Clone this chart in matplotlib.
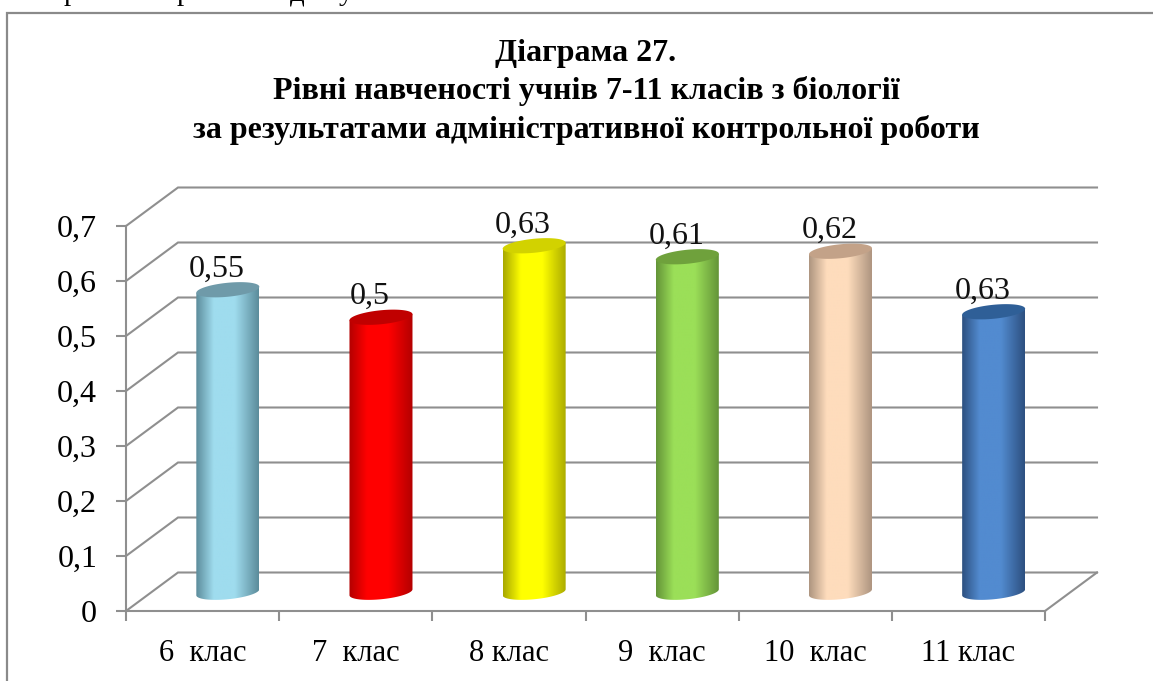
import numpy as np
import matplotlib
matplotlib.use("Agg")
import matplotlib.pyplot as plt
from matplotlib.colors import LinearSegmentedColormap
from matplotlib.lines import Line2D
from matplotlib.patches import Polygon

# ---------- data ----------
categories = ["6  клас", "7  клас", "8 клас", "9  клас", "10  клас", "11 клас"]
values = [0.55, 0.50, 0.63, 0.61, 0.62, 0.51]
value_labels = ["0,55", "0,5", "0,63", "0,61", "0,62", "0,63"]
y_ticks = [0, 0.1, 0.2, 0.3, 0.4, 0.5, 0.6, 0.7]
y_tick_labels = ["0", "0,1", "0,2", "0,3", "0,4", "0,5", "0,6", "0,7"]
body_light = ["#9fdcee", "#ff0000", "#ffff00", "#9bdf58", "#fedcbc", "#528bd0"]
body_dark = ["#5c8c9b", "#b30000", "#a8a800", "#649438", "#ae9580", "#2d5080"]
cap_colors = ["#6f9aa9", "#c00000", "#d2d200", "#6fa13c", "#c3a288", "#2f5f97"]
title = ("Діаграма 27.\nРівні навченості учнів 7-11 класів з біології\n"
         "за результатами адміністративної контрольної роботи")

W, H = 1153, 681
GRAY = "#8f8f8f"
plt.rcParams["font.family"] = ["Liberation Serif", "DejaVu Serif"]

fig = plt.figure(figsize=(W / 100, H / 100), dpi=100, facecolor="white")
L, R, T, B = 126, 1045, 226, 611
ax = fig.add_axes([L / W, 1 - B / H, (R - L) / W, (B - T) / H])
ax.set_facecolor("none")
sx = (R - L) / 6.0          # pixels per category
sy = (B - T) / 0.7          # pixels per value unit
depth_x = 52 / sx
depth_y = 38.5 / sy

# ---------- walls and floor ----------
for v in y_ticks:
    ax.plot([0, depth_x, 6 + depth_x], [v, v + depth_y, v + depth_y],
            color=GRAY, lw=1.5, clip_on=False, zorder=1, solid_joinstyle="miter")
ax.plot([6, 6 + depth_x], [0, depth_y], color=GRAY, lw=1.5, clip_on=False, zorder=1)

for s in ("top", "right"):
    ax.spines[s].set_visible(False)
for s in ("left", "bottom"):
    ax.spines[s].set_color(GRAY)
    ax.spines[s].set_linewidth(1.5)
ax.set_yticks(y_ticks, y_tick_labels)
ax.set_xticks(np.arange(7), [""] * 7)
ax.set_xticks(np.arange(6) + 0.5, categories, minor=True)
ax.tick_params(axis="y", length=7, width=1.5, color=GRAY, labelsize=23, pad=13.7)
ax.tick_params(axis="x", which="major", length=7, width=1.5, color=GRAY)
ax.tick_params(axis="x", which="minor", length=0, labelsize=22, pad=20)

# ---------- cylinders ----------
half_w = 31.5 / sx
t = np.linspace(0, np.pi, 60)
for i, v in enumerate(values):
    cx = i + 0.5 + depth_x / 2 - 0.005
    base = depth_y / 2 - 0.5 / sy
    top = v + base
    # lower arc of a tilted ellipse, expressed in data units
    arc_x = half_w * np.cos(t)
    arc_y = (3 * np.cos(t) - 7 * np.sin(t)) / sy
    cap_t = np.linspace(0, 2 * np.pi, 120)
    cap_x = cx + half_w * np.cos(cap_t)
    cap_y = top + (3 * np.cos(cap_t) + 7 * np.sin(cap_t)) / sy
    body = np.column_stack([
        np.r_[cx - half_w, cx + half_w, cx + arc_x],
        np.r_[top - 3 / sy, top + 3 / sy, base + arc_y],
    ])
    clip = Polygon(body, closed=True, transform=ax.transData, fc="none", ec="none")
    ax.add_patch(clip)
    cmap = LinearSegmentedColormap.from_list(
        f"c{i}", [(0, body_dark[i]), (0.28, body_light[i]), (0.62, body_light[i]), (1, body_dark[i])])
    im = ax.imshow(np.linspace(0, 1, 128)[None, :], cmap=cmap, aspect="auto",
                   extent=(cx - half_w, cx + half_w, base - 10 / sy, top + 10 / sy),
                   zorder=3, interpolation="bilinear")
    im.set_clip_path(clip)
    ax.fill(cap_x, cap_y, color=cap_colors[i], lw=0, zorder=4, clip_on=False)
    ax.annotate(value_labels[i], (cx, top), xytext=(-11 * 0.72, 20.5 * 0.72),
                textcoords="offset points", ha="center", va="center",
                fontsize=23, color="#111111", zorder=5, annotation_clip=False)

ax.set_xlim(0, 6)
ax.set_ylim(0, 0.7)

# ---------- title, frame, clipped line of page text ----------
fig.text(586 / W, 1 - 92 / H, title, ha="center", va="center", fontsize=23,
         fontweight="bold", linespacing=1.37, color="black")
fig.add_artist(Line2D([7 / W, 7 / W, 1], [0, 1 - 12.5 / H, 1 - 12.5 / H],
                      color="#8a8a8a", lw=1.6, solid_joinstyle="miter"))
for px, ch in [(71, "р"), (184, "р"), (297, "д"), (346, "у")]:
    fig.text(px / W, 1 - 0 / H, ch, ha="center", va="baseline", fontsize=21, color="black")

fig.savefig("out.png", dpi=100, facecolor="white")
